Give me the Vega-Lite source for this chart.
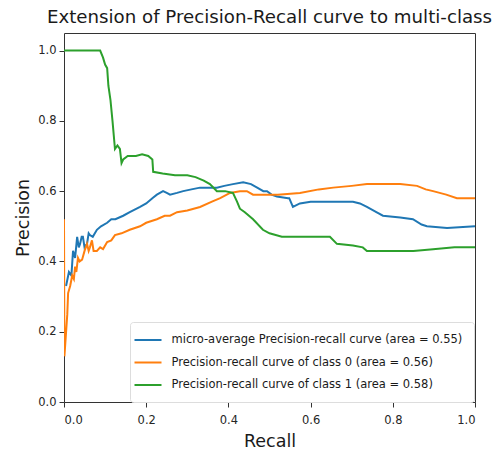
{
  "$schema": "https://vega.github.io/schema/vega-lite/v6.json",
  "width": 411,
  "height": 369,
  "autosize": "none",
  "padding": {"left": 64, "top": 33, "right": 28, "bottom": 52},
  "background": "white",
  "title": {
    "text": "Extension of Precision-Recall curve to multi-class",
    "font": "DejaVu Sans",
    "fontSize": 18.2,
    "fontWeight": "normal",
    "color": "#1a1a1a",
    "anchor": "middle",
    "offset": 6
  },
  "config": {
    "view": {"stroke": "#333333", "strokeWidth": 1},
    "axis": {
      "grid": false,
      "domain": false,
      "tickColor": "#333333",
      "tickSize": 5,
      "labelFont": "DejaVu Sans",
      "labelFontSize": 11.5,
      "labelColor": "#262626",
      "titleFont": "DejaVu Sans",
      "titleFontSize": 17.5,
      "titleFontWeight": "normal",
      "titleColor": "#1a1a1a"
    }
  },
  "data": {
    "values": [
      {"series": "micro-average Precision-recall curve (area = 0.55)", "recall": 0.005, "precision": 0.33},
      {"series": "micro-average Precision-recall curve (area = 0.55)", "recall": 0.012, "precision": 0.37},
      {"series": "micro-average Precision-recall curve (area = 0.55)", "recall": 0.018, "precision": 0.36},
      {"series": "micro-average Precision-recall curve (area = 0.55)", "recall": 0.022, "precision": 0.43},
      {"series": "micro-average Precision-recall curve (area = 0.55)", "recall": 0.027, "precision": 0.41},
      {"series": "micro-average Precision-recall curve (area = 0.55)", "recall": 0.032, "precision": 0.47},
      {"series": "micro-average Precision-recall curve (area = 0.55)", "recall": 0.036, "precision": 0.44},
      {"series": "micro-average Precision-recall curve (area = 0.55)", "recall": 0.039, "precision": 0.45},
      {"series": "micro-average Precision-recall curve (area = 0.55)", "recall": 0.043, "precision": 0.47},
      {"series": "micro-average Precision-recall curve (area = 0.55)", "recall": 0.046, "precision": 0.47},
      {"series": "micro-average Precision-recall curve (area = 0.55)", "recall": 0.05, "precision": 0.44},
      {"series": "micro-average Precision-recall curve (area = 0.55)", "recall": 0.056, "precision": 0.45},
      {"series": "micro-average Precision-recall curve (area = 0.55)", "recall": 0.06, "precision": 0.48},
      {"series": "micro-average Precision-recall curve (area = 0.55)", "recall": 0.063, "precision": 0.475},
      {"series": "micro-average Precision-recall curve (area = 0.55)", "recall": 0.07, "precision": 0.47},
      {"series": "micro-average Precision-recall curve (area = 0.55)", "recall": 0.08, "precision": 0.49},
      {"series": "micro-average Precision-recall curve (area = 0.55)", "recall": 0.09, "precision": 0.5},
      {"series": "micro-average Precision-recall curve (area = 0.55)", "recall": 0.105, "precision": 0.51},
      {"series": "micro-average Precision-recall curve (area = 0.55)", "recall": 0.115, "precision": 0.52},
      {"series": "micro-average Precision-recall curve (area = 0.55)", "recall": 0.125, "precision": 0.52},
      {"series": "micro-average Precision-recall curve (area = 0.55)", "recall": 0.144, "precision": 0.53},
      {"series": "micro-average Precision-recall curve (area = 0.55)", "recall": 0.16, "precision": 0.54},
      {"series": "micro-average Precision-recall curve (area = 0.55)", "recall": 0.185, "precision": 0.555},
      {"series": "micro-average Precision-recall curve (area = 0.55)", "recall": 0.2, "precision": 0.565},
      {"series": "micro-average Precision-recall curve (area = 0.55)", "recall": 0.215, "precision": 0.58},
      {"series": "micro-average Precision-recall curve (area = 0.55)", "recall": 0.226, "precision": 0.59},
      {"series": "micro-average Precision-recall curve (area = 0.55)", "recall": 0.241, "precision": 0.6},
      {"series": "micro-average Precision-recall curve (area = 0.55)", "recall": 0.25, "precision": 0.595},
      {"series": "micro-average Precision-recall curve (area = 0.55)", "recall": 0.258, "precision": 0.59},
      {"series": "micro-average Precision-recall curve (area = 0.55)", "recall": 0.275, "precision": 0.595},
      {"series": "micro-average Precision-recall curve (area = 0.55)", "recall": 0.29, "precision": 0.6},
      {"series": "micro-average Precision-recall curve (area = 0.55)", "recall": 0.31, "precision": 0.605},
      {"series": "micro-average Precision-recall curve (area = 0.55)", "recall": 0.331, "precision": 0.61},
      {"series": "micro-average Precision-recall curve (area = 0.55)", "recall": 0.35, "precision": 0.61},
      {"series": "micro-average Precision-recall curve (area = 0.55)", "recall": 0.372, "precision": 0.61},
      {"series": "micro-average Precision-recall curve (area = 0.55)", "recall": 0.39, "precision": 0.615},
      {"series": "micro-average Precision-recall curve (area = 0.55)", "recall": 0.411, "precision": 0.62},
      {"series": "micro-average Precision-recall curve (area = 0.55)", "recall": 0.436, "precision": 0.625},
      {"series": "micro-average Precision-recall curve (area = 0.55)", "recall": 0.455, "precision": 0.62},
      {"series": "micro-average Precision-recall curve (area = 0.55)", "recall": 0.47, "precision": 0.61},
      {"series": "micro-average Precision-recall curve (area = 0.55)", "recall": 0.485, "precision": 0.6},
      {"series": "micro-average Precision-recall curve (area = 0.55)", "recall": 0.494, "precision": 0.6},
      {"series": "micro-average Precision-recall curve (area = 0.55)", "recall": 0.505, "precision": 0.59},
      {"series": "micro-average Precision-recall curve (area = 0.55)", "recall": 0.518, "precision": 0.585},
      {"series": "micro-average Precision-recall curve (area = 0.55)", "recall": 0.545, "precision": 0.58},
      {"series": "micro-average Precision-recall curve (area = 0.55)", "recall": 0.548, "precision": 0.58},
      {"series": "micro-average Precision-recall curve (area = 0.55)", "recall": 0.557, "precision": 0.555},
      {"series": "micro-average Precision-recall curve (area = 0.55)", "recall": 0.574, "precision": 0.565},
      {"series": "micro-average Precision-recall curve (area = 0.55)", "recall": 0.6, "precision": 0.57},
      {"series": "micro-average Precision-recall curve (area = 0.55)", "recall": 0.655, "precision": 0.57},
      {"series": "micro-average Precision-recall curve (area = 0.55)", "recall": 0.703, "precision": 0.57},
      {"series": "micro-average Precision-recall curve (area = 0.55)", "recall": 0.72, "precision": 0.565},
      {"series": "micro-average Precision-recall curve (area = 0.55)", "recall": 0.737, "precision": 0.555},
      {"series": "micro-average Precision-recall curve (area = 0.55)", "recall": 0.76, "precision": 0.54},
      {"series": "micro-average Precision-recall curve (area = 0.55)", "recall": 0.776, "precision": 0.53},
      {"series": "micro-average Precision-recall curve (area = 0.55)", "recall": 0.818, "precision": 0.525},
      {"series": "micro-average Precision-recall curve (area = 0.55)", "recall": 0.849, "precision": 0.52},
      {"series": "micro-average Precision-recall curve (area = 0.55)", "recall": 0.87, "precision": 0.505},
      {"series": "micro-average Precision-recall curve (area = 0.55)", "recall": 0.883, "precision": 0.5},
      {"series": "micro-average Precision-recall curve (area = 0.55)", "recall": 0.932, "precision": 0.495},
      {"series": "micro-average Precision-recall curve (area = 0.55)", "recall": 1.0, "precision": 0.5},

      {"series": "Precision-recall curve of class 0 (area = 0.56)", "recall": 0.0, "precision": 0.52},
      {"series": "Precision-recall curve of class 0 (area = 0.56)", "recall": 0.001, "precision": 0.13},
      {"series": "Precision-recall curve of class 0 (area = 0.56)", "recall": 0.008, "precision": 0.25},
      {"series": "Precision-recall curve of class 0 (area = 0.56)", "recall": 0.01, "precision": 0.31},
      {"series": "Precision-recall curve of class 0 (area = 0.56)", "recall": 0.015, "precision": 0.33},
      {"series": "Precision-recall curve of class 0 (area = 0.56)", "recall": 0.02, "precision": 0.36},
      {"series": "Precision-recall curve of class 0 (area = 0.56)", "recall": 0.024, "precision": 0.35},
      {"series": "Precision-recall curve of class 0 (area = 0.56)", "recall": 0.027, "precision": 0.385},
      {"series": "Precision-recall curve of class 0 (area = 0.56)", "recall": 0.03, "precision": 0.37},
      {"series": "Precision-recall curve of class 0 (area = 0.56)", "recall": 0.034, "precision": 0.41},
      {"series": "Precision-recall curve of class 0 (area = 0.56)", "recall": 0.038, "precision": 0.4},
      {"series": "Precision-recall curve of class 0 (area = 0.56)", "recall": 0.044, "precision": 0.405},
      {"series": "Precision-recall curve of class 0 (area = 0.56)", "recall": 0.05, "precision": 0.43},
      {"series": "Precision-recall curve of class 0 (area = 0.56)", "recall": 0.056, "precision": 0.45},
      {"series": "Precision-recall curve of class 0 (area = 0.56)", "recall": 0.06, "precision": 0.43},
      {"series": "Precision-recall curve of class 0 (area = 0.56)", "recall": 0.063, "precision": 0.44},
      {"series": "Precision-recall curve of class 0 (area = 0.56)", "recall": 0.068, "precision": 0.46},
      {"series": "Precision-recall curve of class 0 (area = 0.56)", "recall": 0.072, "precision": 0.43},
      {"series": "Precision-recall curve of class 0 (area = 0.56)", "recall": 0.08, "precision": 0.43},
      {"series": "Precision-recall curve of class 0 (area = 0.56)", "recall": 0.088, "precision": 0.44},
      {"series": "Precision-recall curve of class 0 (area = 0.56)", "recall": 0.095, "precision": 0.435},
      {"series": "Precision-recall curve of class 0 (area = 0.56)", "recall": 0.105, "precision": 0.455},
      {"series": "Precision-recall curve of class 0 (area = 0.56)", "recall": 0.115, "precision": 0.46},
      {"series": "Precision-recall curve of class 0 (area = 0.56)", "recall": 0.124, "precision": 0.475},
      {"series": "Precision-recall curve of class 0 (area = 0.56)", "recall": 0.14, "precision": 0.48},
      {"series": "Precision-recall curve of class 0 (area = 0.56)", "recall": 0.16, "precision": 0.49},
      {"series": "Precision-recall curve of class 0 (area = 0.56)", "recall": 0.185, "precision": 0.5},
      {"series": "Precision-recall curve of class 0 (area = 0.56)", "recall": 0.2, "precision": 0.51},
      {"series": "Precision-recall curve of class 0 (area = 0.56)", "recall": 0.226, "precision": 0.52},
      {"series": "Precision-recall curve of class 0 (area = 0.56)", "recall": 0.245, "precision": 0.53},
      {"series": "Precision-recall curve of class 0 (area = 0.56)", "recall": 0.258, "precision": 0.53},
      {"series": "Precision-recall curve of class 0 (area = 0.56)", "recall": 0.275, "precision": 0.54},
      {"series": "Precision-recall curve of class 0 (area = 0.56)", "recall": 0.3, "precision": 0.545},
      {"series": "Precision-recall curve of class 0 (area = 0.56)", "recall": 0.331, "precision": 0.555},
      {"series": "Precision-recall curve of class 0 (area = 0.56)", "recall": 0.36, "precision": 0.57},
      {"series": "Precision-recall curve of class 0 (area = 0.56)", "recall": 0.38, "precision": 0.58},
      {"series": "Precision-recall curve of class 0 (area = 0.56)", "recall": 0.404, "precision": 0.595},
      {"series": "Precision-recall curve of class 0 (area = 0.56)", "recall": 0.428, "precision": 0.6},
      {"series": "Precision-recall curve of class 0 (area = 0.56)", "recall": 0.445, "precision": 0.6},
      {"series": "Precision-recall curve of class 0 (area = 0.56)", "recall": 0.46, "precision": 0.59},
      {"series": "Precision-recall curve of class 0 (area = 0.56)", "recall": 0.494, "precision": 0.59},
      {"series": "Precision-recall curve of class 0 (area = 0.56)", "recall": 0.52, "precision": 0.59},
      {"series": "Precision-recall curve of class 0 (area = 0.56)", "recall": 0.574, "precision": 0.595},
      {"series": "Precision-recall curve of class 0 (area = 0.56)", "recall": 0.62, "precision": 0.605},
      {"series": "Precision-recall curve of class 0 (area = 0.56)", "recall": 0.655, "precision": 0.61},
      {"series": "Precision-recall curve of class 0 (area = 0.56)", "recall": 0.7, "precision": 0.615},
      {"series": "Precision-recall curve of class 0 (area = 0.56)", "recall": 0.737, "precision": 0.62},
      {"series": "Precision-recall curve of class 0 (area = 0.56)", "recall": 0.78, "precision": 0.62},
      {"series": "Precision-recall curve of class 0 (area = 0.56)", "recall": 0.818, "precision": 0.62},
      {"series": "Precision-recall curve of class 0 (area = 0.56)", "recall": 0.859, "precision": 0.615},
      {"series": "Precision-recall curve of class 0 (area = 0.56)", "recall": 0.88, "precision": 0.605},
      {"series": "Precision-recall curve of class 0 (area = 0.56)", "recall": 0.898, "precision": 0.6},
      {"series": "Precision-recall curve of class 0 (area = 0.56)", "recall": 0.93, "precision": 0.59},
      {"series": "Precision-recall curve of class 0 (area = 0.56)", "recall": 0.956, "precision": 0.58},
      {"series": "Precision-recall curve of class 0 (area = 0.56)", "recall": 1.0, "precision": 0.58},

      {"series": "Precision-recall curve of class 1 (area = 0.58)", "recall": 0.0, "precision": 1.0},
      {"series": "Precision-recall curve of class 1 (area = 0.58)", "recall": 0.088, "precision": 1.0},
      {"series": "Precision-recall curve of class 1 (area = 0.58)", "recall": 0.095, "precision": 0.98},
      {"series": "Precision-recall curve of class 1 (area = 0.58)", "recall": 0.1, "precision": 0.96},
      {"series": "Precision-recall curve of class 1 (area = 0.58)", "recall": 0.105, "precision": 0.95},
      {"series": "Precision-recall curve of class 1 (area = 0.58)", "recall": 0.108, "precision": 0.9},
      {"series": "Precision-recall curve of class 1 (area = 0.58)", "recall": 0.113, "precision": 0.86},
      {"series": "Precision-recall curve of class 1 (area = 0.58)", "recall": 0.118, "precision": 0.8},
      {"series": "Precision-recall curve of class 1 (area = 0.58)", "recall": 0.124, "precision": 0.72},
      {"series": "Precision-recall curve of class 1 (area = 0.58)", "recall": 0.13, "precision": 0.73},
      {"series": "Precision-recall curve of class 1 (area = 0.58)", "recall": 0.136, "precision": 0.72},
      {"series": "Precision-recall curve of class 1 (area = 0.58)", "recall": 0.14, "precision": 0.68},
      {"series": "Precision-recall curve of class 1 (area = 0.58)", "recall": 0.144, "precision": 0.69},
      {"series": "Precision-recall curve of class 1 (area = 0.58)", "recall": 0.155, "precision": 0.7},
      {"series": "Precision-recall curve of class 1 (area = 0.58)", "recall": 0.175, "precision": 0.7},
      {"series": "Precision-recall curve of class 1 (area = 0.58)", "recall": 0.19, "precision": 0.705},
      {"series": "Precision-recall curve of class 1 (area = 0.58)", "recall": 0.205, "precision": 0.7},
      {"series": "Precision-recall curve of class 1 (area = 0.58)", "recall": 0.215, "precision": 0.69},
      {"series": "Precision-recall curve of class 1 (area = 0.58)", "recall": 0.217, "precision": 0.655},
      {"series": "Precision-recall curve of class 1 (area = 0.58)", "recall": 0.24, "precision": 0.65},
      {"series": "Precision-recall curve of class 1 (area = 0.58)", "recall": 0.27, "precision": 0.645},
      {"series": "Precision-recall curve of class 1 (area = 0.58)", "recall": 0.3, "precision": 0.645},
      {"series": "Precision-recall curve of class 1 (area = 0.58)", "recall": 0.32, "precision": 0.64},
      {"series": "Precision-recall curve of class 1 (area = 0.58)", "recall": 0.34, "precision": 0.63},
      {"series": "Precision-recall curve of class 1 (area = 0.58)", "recall": 0.355, "precision": 0.62},
      {"series": "Precision-recall curve of class 1 (area = 0.58)", "recall": 0.372, "precision": 0.6},
      {"series": "Precision-recall curve of class 1 (area = 0.58)", "recall": 0.392, "precision": 0.6},
      {"series": "Precision-recall curve of class 1 (area = 0.58)", "recall": 0.411, "precision": 0.595},
      {"series": "Precision-recall curve of class 1 (area = 0.58)", "recall": 0.421, "precision": 0.57},
      {"series": "Precision-recall curve of class 1 (area = 0.58)", "recall": 0.428, "precision": 0.55},
      {"series": "Precision-recall curve of class 1 (area = 0.58)", "recall": 0.44, "precision": 0.54},
      {"series": "Precision-recall curve of class 1 (area = 0.58)", "recall": 0.46, "precision": 0.52},
      {"series": "Precision-recall curve of class 1 (area = 0.58)", "recall": 0.484, "precision": 0.49},
      {"series": "Precision-recall curve of class 1 (area = 0.58)", "recall": 0.5, "precision": 0.48},
      {"series": "Precision-recall curve of class 1 (area = 0.58)", "recall": 0.53, "precision": 0.47},
      {"series": "Precision-recall curve of class 1 (area = 0.58)", "recall": 0.557, "precision": 0.47},
      {"series": "Precision-recall curve of class 1 (area = 0.58)", "recall": 0.6, "precision": 0.47},
      {"series": "Precision-recall curve of class 1 (area = 0.58)", "recall": 0.647, "precision": 0.47},
      {"series": "Precision-recall curve of class 1 (area = 0.58)", "recall": 0.664, "precision": 0.45},
      {"series": "Precision-recall curve of class 1 (area = 0.58)", "recall": 0.703, "precision": 0.445},
      {"series": "Precision-recall curve of class 1 (area = 0.58)", "recall": 0.727, "precision": 0.44},
      {"series": "Precision-recall curve of class 1 (area = 0.58)", "recall": 0.737, "precision": 0.43},
      {"series": "Precision-recall curve of class 1 (area = 0.58)", "recall": 0.8, "precision": 0.43},
      {"series": "Precision-recall curve of class 1 (area = 0.58)", "recall": 0.85, "precision": 0.43},
      {"series": "Precision-recall curve of class 1 (area = 0.58)", "recall": 0.898, "precision": 0.435},
      {"series": "Precision-recall curve of class 1 (area = 0.58)", "recall": 0.95, "precision": 0.44},
      {"series": "Precision-recall curve of class 1 (area = 0.58)", "recall": 1.0, "precision": 0.44}
    ]
  },
  "mark": {"type": "line", "strokeWidth": 2, "clip": true},
  "encoding": {
    "x": {
      "field": "recall",
      "type": "quantitative",
      "title": "Recall",
      "scale": {"domain": [0, 1], "nice": false, "zero": false},
      "axis": {"values": [0, 0.2, 0.4, 0.6, 0.8, 1.0], "format": ".1f", "labelPadding": 7, "titlePadding": 7}
    },
    "y": {
      "field": "precision",
      "type": "quantitative",
      "title": "Precision",
      "scale": {"domain": [0, 1.05], "nice": false, "zero": false},
      "axis": {"values": [0, 0.2, 0.4, 0.6, 0.8, 1.0], "format": ".1f", "labelPadding": 3, "titlePadding": 5}
    },
    "color": {
      "field": "series",
      "type": "nominal",
      "scale": {
        "domain": [
          "micro-average Precision-recall curve (area = 0.55)",
          "Precision-recall curve of class 0 (area = 0.56)",
          "Precision-recall curve of class 1 (area = 0.58)"
        ],
        "range": ["#1f77b4", "#ff7f0e", "#2ca02c"]
      },
      "legend": {
        "title": null,
        "orient": "none",
        "legendX": 66,
        "legendY": 289,
        "symbolType": "M-2.25,0H2.25",
        "symbolSize": 144,
        "symbolStrokeWidth": 2,
        "labelFont": "DejaVu Sans",
        "labelFontSize": 11.5,
        "labelColor": "#1a1a1a",
        "labelOffset": 16.5,
        "labelLimit": 400,
        "rowPadding": 9.5,
        "padding": 11,
        "fillColor": "white",
        "strokeColor": "#dddddd",
        "cornerRadius": 3
      }
    },
    "order": {"value": null}
  }
}
